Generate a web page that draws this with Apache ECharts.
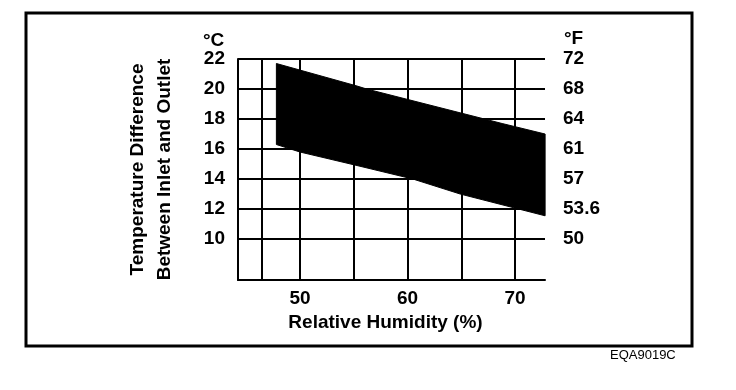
<!DOCTYPE html>
<html><head><meta charset="utf-8">
<script src="https://cdn.jsdelivr.net/npm/echarts@6/dist/echarts.min.js"></script>
<style>html,body{margin:0;padding:0;background:#fff}#c{width:736px;height:390px}</style>
</head><body><div id="c"></div>
<script>
// Axis ticks / labels
const humidityGrid = [46.4, 50, 55, 60, 65, 70];
const humidityLabels = [50, 60, 70];
const celsiusTicks = [10, 12, 14, 16, 18, 20, 22];
const fahrenheitLabels = ['50', '53.6', '57', '61', '64', '68', '72'];
// Band (acceptable range) edges
const upperHumidity = [47.8, 55.3, 56.2, 68.8, 72.8];
const upperTemp = [21.7, 20.2, 20.0, 17.7, 17.0];
const lowerHumidity = [72.8, 64.9, 60.5, 55.3, 50, 47.8];
const lowerTemp = [11.55, 13.0, 14.0, 14.9, 15.8, 16.3];

const FONT = 'Liberation Sans, Arial, sans-serif';
const W = 'bold';
const chart = echarts.init(document.getElementById('c'), null, {renderer: 'canvas'});
chart.setOption({
  animation: false,
  backgroundColor: '#fff',
  grid: {left: 238, top: 59, width: 307, height: 221, containLabel: false},
  xAxis: {
    type: 'value', min: 44.23, max: 72.79,
    axisLine: {show: true, onZero: false, lineStyle: {color: '#000', width: 2}},
    axisTick: {show: false, customValues: humidityGrid},
    splitLine: {show: true, lineStyle: {color: '#000', width: 2}},
    axisLabel: {customValues: humidityLabels, color: '#000', fontSize: 19, fontWeight: W, fontFamily: FONT, margin: 9},
    name: 'Relative Humidity (%)', nameLocation: 'middle', nameGap: 29,
    nameTextStyle: {color: '#000', fontSize: 19, fontWeight: W, fontFamily: FONT, padding: [0, 12, 0, 0]}
  },
  yAxis: [{
    type: 'value', min: 7.27, max: 22, position: 'left',
    axisLine: {show: true, lineStyle: {color: '#000', width: 2}},
    axisTick: {show: false, customValues: celsiusTicks},
    splitLine: {show: true, lineStyle: {color: '#000', width: 2}},
    axisLabel: {customValues: celsiusTicks, color: '#000', fontSize: 19, fontWeight: W, fontFamily: FONT, margin: 13},
    name: 'Temperature Difference\nBetween Inlet and Outlet', nameLocation: 'middle', nameRotate: 90, nameGap: 60,
    nameTextStyle: {color: '#000', fontSize: 19, fontWeight: W, fontFamily: FONT, lineHeight: 27}
  }, {
    type: 'value', min: 7.27, max: 22, position: 'right',
    axisLine: {show: false},
    axisTick: {show: false, customValues: celsiusTicks},
    splitLine: {show: false},
    axisLabel: {customValues: celsiusTicks, color: '#000', fontSize: 19, fontWeight: W, fontFamily: FONT, margin: 18,
      formatter: v => fahrenheitLabels[celsiusTicks.indexOf(Math.round(v))]}
  }],
  graphic: [
    {type: 'rect', shape: {x: 26, y: 13, width: 666, height: 333}, style: {fill: 'none', stroke: '#000', lineWidth: 3}, silent: true},
    {type: 'text', left: 203, top: 31, style: {text: '°C', font: 'bold 19px ' + FONT, fill: '#000'}},
    {type: 'text', left: 564, top: 29, style: {text: '°F', font: 'bold 19px ' + FONT, fill: '#000'}},
    {type: 'text', left: 610, top: 349, style: {text: 'EQA9019C', font: '13px ' + FONT, fill: '#000'}}
  ],
  series: [{
    type: 'custom',
    xAxisIndex: 0, yAxisIndex: 0,
    data: [[upperHumidity[0], upperTemp[0]]],
    renderItem: function (params, api) {
      const pts = [];
      upperHumidity.forEach((h, i) => pts.push(api.coord([h, upperTemp[i]])));
      lowerHumidity.forEach((h, i) => pts.push(api.coord([h, lowerTemp[i]])));
      return {type: 'polygon', shape: {points: pts}, style: {fill: '#000', stroke: '#000', lineWidth: 1}};
    }
  }]
});
</script>
</body></html>
